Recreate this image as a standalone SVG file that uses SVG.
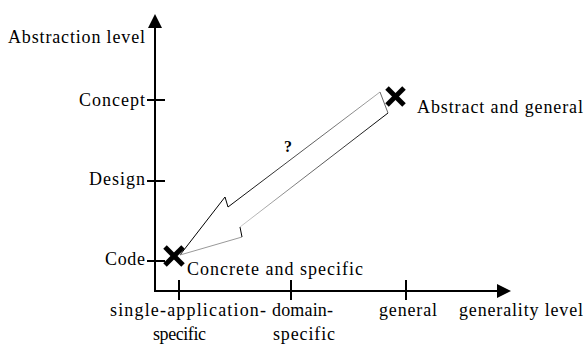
<svg xmlns="http://www.w3.org/2000/svg" width="586" height="344" viewBox="0 0 586 344">
<style>
text{font-family:"Liberation Serif","Times New Roman",serif;font-size:18px;fill:#000}
.axis{stroke:#000;stroke-width:2;fill:none}
.tick{stroke:#000;stroke-width:2}
.x{stroke:#000;stroke-width:5;stroke-linecap:butt}
</style>
<defs>
<linearGradient id="gTop" gradientUnits="userSpaceOnUse" x1="228" y1="207" x2="380" y2="92">
<stop offset="0" stop-color="#000"/><stop offset="1" stop-color="#aaa"/>
</linearGradient>
<linearGradient id="gBot" gradientUnits="userSpaceOnUse" x1="388" y1="113" x2="240" y2="227">
<stop offset="0" stop-color="#000"/><stop offset="1" stop-color="#ccc"/>
</linearGradient>
</defs>
<rect width="586" height="344" fill="#fff"/>
<g id="axes">
<line class="axis" x1="155" y1="26" x2="155" y2="292"/>
<polygon points="155,14 148,28 162,28" fill="#000"/>
<line class="axis" x1="154" y1="291" x2="498" y2="291"/>
<polygon points="511,291 497,284 497,298" fill="#000"/>
<text x="145" y="43" text-anchor="end" textLength="137" lengthAdjust="spacing">Abstraction level</text>
<text x="459" y="316" textLength="124" lengthAdjust="spacing">generality level</text>
</g>
<g id="y-ticks">
<line class="tick" x1="147" y1="100" x2="165" y2="100"/>
<line class="tick" x1="147" y1="181" x2="165" y2="181"/>
<line class="tick" x1="147" y1="261" x2="165" y2="261"/>
<text x="145" y="106" text-anchor="end" textLength="66" lengthAdjust="spacing">Concept</text>
<text x="145" y="185" text-anchor="end" textLength="56" lengthAdjust="spacing">Design</text>
<text x="145" y="265" text-anchor="end" textLength="40" lengthAdjust="spacing">Code</text>
</g>
<g id="x-ticks">
<line class="tick" x1="179" y1="280" x2="179" y2="300"/>
<line class="tick" x1="291" y1="280" x2="291" y2="300"/>
<line class="tick" x1="406" y1="280" x2="406" y2="300"/>
<text x="110" y="316" textLength="156" lengthAdjust="spacing">single-application-</text>
<text x="153" y="340" textLength="53" lengthAdjust="spacing">specific</text>
<text x="272" y="316" textLength="61" lengthAdjust="spacing">domain-</text>
<text x="273" y="340" textLength="62" lengthAdjust="spacing">specific</text>
<text x="379" y="316" textLength="58" lengthAdjust="spacing">general</text>
</g>
<g id="node-abstract">
<line class="x" x1="387" y1="88" x2="404" y2="105"/>
<line class="x" x1="404" y1="88" x2="387" y2="105"/>
<text x="417" y="113" textLength="166" lengthAdjust="spacing">Abstract and general</text>
</g>
<g id="node-concrete">
<line class="x" x1="165" y1="247" x2="183" y2="265"/>
<line class="x" x1="183" y1="247" x2="165" y2="265"/>
<text x="187" y="275" textLength="176" lengthAdjust="spacing">Concrete and specific</text>
</g>
<g id="connectors">
<polygon points="380,92 228,207 225,197 180,255 242,237 240,227 388,113" fill="#fff" stroke="none"/>
<g fill="none" stroke-width="1">
<path d="M380,92 L228,207" stroke="url(#gTop)"/>
<path d="M228,207 L225,197 L180,255" stroke="#000"/>
<path d="M180,255 L242,237" stroke="#999"/>
<path d="M242,237 L240,227" stroke="#000"/>
<path d="M240,227 L388,113" stroke="url(#gBot)"/>
<path d="M388,113 L380,92" stroke="#666"/>
</g>
<text x="288" y="152" text-anchor="middle" style="font-size:16px;font-weight:bold">?</text>
</g>
</svg>
